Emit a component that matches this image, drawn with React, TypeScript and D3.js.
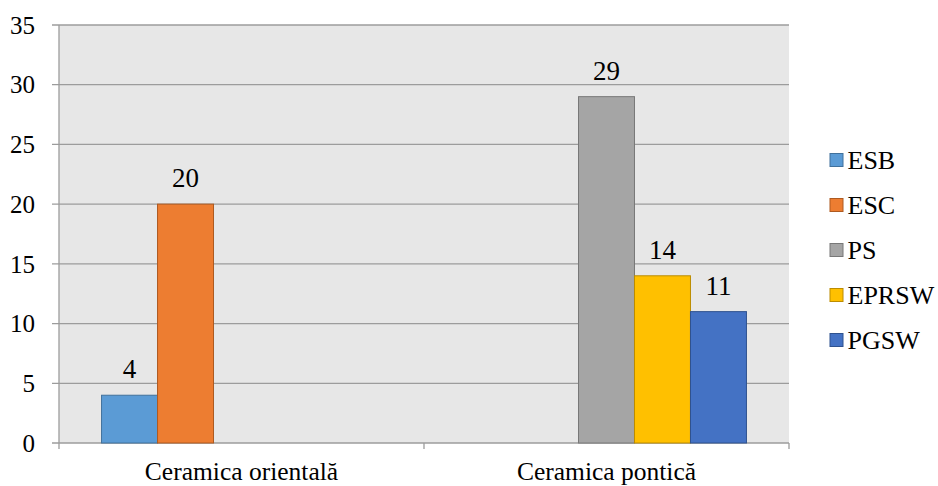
import React from "react";
import * as d3 from "d3";

const categories = ["Ceramica orientală", "Ceramica pontică"];
const seriesNames = ["ESB", "ESC", "PS", "EPRSW", "PGSW"];
// value per series, one entry per category (null = no bar)
const ESB = [4, null];
const ESC = [20, null];
const PS = [null, 29];
const EPRSW = [null, 14];
const PGSW = [null, 11];
const yTicks = [0, 5, 10, 15, 20, 25, 30, 35];

const seriesValues = [ESB, ESC, PS, EPRSW, PGSW];
const fills = ["#5b9bd5", "#ed7d31", "#a5a5a5", "#ffc000", "#4472c4"];
const strokes = ["#41719c", "#ae5a21", "#787878", "#bc8c00", "#2f528f"];

const W = 938;
const H = 486;
const margin = { top: 25, right: 149, bottom: 43, left: 59 };
const txt = (size: number): React.CSSProperties => ({
  fontFamily: "Liberation Serif",
  fontSize: size,
});

export default function App() {
  const innerW = W - margin.left - margin.right;
  const innerH = H - margin.top - margin.bottom;

  const x0 = d3.scaleBand<string>().domain(categories).range([0, innerW]);
  const x1 = d3
    .scaleBand<string>()
    .domain(seriesNames)
    .range([0, x0.bandwidth()])
    .paddingOuter(0.76);
  const y = d3.scaleLinear().domain([0, 35]).range([innerH, 0]);

  const bars: JSX.Element[] = [];
  const labels: JSX.Element[] = [];
  categories.forEach((cat, ci) => {
    seriesNames.forEach((s, si) => {
      const v = seriesValues[si][ci];
      if (v == null) return;
      const bx = (x0(cat) ?? 0) + (x1(s) ?? 0);
      bars.push(
        <rect
          key={cat + s}
          x={bx}
          y={y(v)}
          width={x1.bandwidth()}
          height={innerH - y(v)}
          fill={fills[si]}
          stroke={strokes[si]}
          strokeWidth={1}
        />
      );
      labels.push(
        <text
          key={"l" + cat + s}
          x={bx + x1.bandwidth() / 2}
          y={y(v) - 17}
          textAnchor="middle"
          style={txt(27)}
        >
          {v}
        </text>
      );
    });
  });

  return (
    <div style={{ position: "fixed", left: 0, top: 0, background: "#fff" }}>
      <svg width={W} height={H} style={{ display: "block" }}>
        <rect width={W} height={H} fill="#ffffff" />
        <g transform={`translate(${margin.left},${margin.top})`}>
          <rect width={innerW} height={innerH} fill="#e7e7e7" />
          {yTicks.map((t) => (
            <g key={t}>
              <line
                x1={-7}
                x2={innerW}
                y1={y(t)}
                y2={y(t)}
                stroke="#9c9c9c"
                strokeWidth={1.3}
              />
              <text
                x={-24}
                y={y(t)}
                dy="0.35em"
                textAnchor="end"
                style={txt(25)}
              >
                {t}
              </text>
            </g>
          ))}
          <line x1={0} x2={0} y1={0} y2={innerH + 6} stroke="#9c9c9c" strokeWidth={1.3} />
          {categories.map((c) => (
            <line
              key={c}
              x1={(x0(c) ?? 0) + x0.bandwidth()}
              x2={(x0(c) ?? 0) + x0.bandwidth()}
              y1={innerH}
              y2={innerH + 6}
              stroke="#9c9c9c"
              strokeWidth={1.3}
            />
          ))}
          {bars}
          {labels}
          {categories.map((c) => (
            <text
              key={"c" + c}
              x={(x0(c) ?? 0) + x0.bandwidth() / 2}
              y={innerH + 37}
              textAnchor="middle"
              style={txt(25.5)}
            >
              {c}
            </text>
          ))}
        </g>
        <g transform="translate(830,160)">
          {seriesNames.map((s, i) => (
            <g key={s} transform={`translate(0,${i * 45})`}>
              <rect x={0} y={-6.5} width={13} height={13} fill={fills[i]} stroke={strokes[i]} />
              <text x={17.5} y={0} dy="0.35em" style={txt(26)}>
                {s}
              </text>
            </g>
          ))}
        </g>
      </svg>
    </div>
  );
}
